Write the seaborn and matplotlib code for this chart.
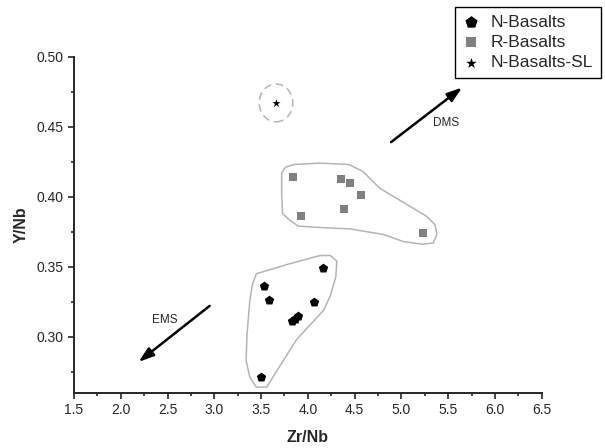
import matplotlib
matplotlib.use("Agg")
import matplotlib.pyplot as plt
from matplotlib.patches import Ellipse
import numpy as np
import pandas as pd
import seaborn as sns

# Zr/Nb vs Y/Nb values
n_zr_nb = [4.16, 3.53, 3.58, 4.07, 3.83, 3.86, 3.89, 3.50]
n_y_nb = [0.349, 0.336, 0.326, 0.325, 0.311, 0.313, 0.315, 0.271]

r_zr_nb = [3.84, 4.35, 4.45, 4.57, 4.39, 3.93, 5.23]
r_y_nb = [0.414, 0.413, 0.410, 0.401, 0.391, 0.386, 0.374]

sl_zr_nb = [3.66]
sl_y_nb = [0.467]

# hand-drawn envelopes around the groups (data units)
n_env_x = [3.45, 3.80, 4.13, 4.24, 4.31, 4.30, 4.24, 4.17, 3.88, 3.70, 3.56,
           3.45, 3.38, 3.34, 3.35, 3.38, 3.41]
n_env_y = [0.345, 0.352, 0.358, 0.358, 0.354, 0.343, 0.329, 0.319, 0.298,
           0.279, 0.264, 0.264, 0.271, 0.283, 0.302, 0.326, 0.338]

r_env_x = [3.76, 3.85, 4.13, 4.44, 4.59, 4.77, 5.02, 5.27, 5.36, 5.38, 5.34,
           5.23, 5.02, 4.81, 4.45, 4.13, 3.90, 3.81, 3.73, 3.72, 3.72]
r_env_y = [0.421, 0.423, 0.424, 0.423, 0.418, 0.406, 0.396, 0.386, 0.380,
           0.373, 0.367, 0.366, 0.368, 0.373, 0.377, 0.378, 0.379, 0.383,
           0.388, 0.402, 0.417]

# trend arrows: (tail, head)
dms_arrow = [(4.89, 0.439), (5.65, 0.478)]
ems_arrow = [(2.95, 0.322), (2.19, 0.282)]

x_ticks = [1.5, 2.0, 2.5, 3.0, 3.5, 4.0, 4.5, 5.0, 5.5, 6.0, 6.5]
y_ticks = [0.30, 0.35, 0.40, 0.45, 0.50]

sns.set_style("ticks")
plt.rcParams["font.family"] = ["Liberation Sans", "DejaVu Sans"]

df = pd.concat([
    pd.DataFrame({"Zr/Nb": n_zr_nb, "Y/Nb": n_y_nb, "group": "N-Basalts"}),
    pd.DataFrame({"Zr/Nb": r_zr_nb, "Y/Nb": r_y_nb, "group": "R-Basalts"}),
    pd.DataFrame({"Zr/Nb": sl_zr_nb, "Y/Nb": sl_y_nb, "group": "N-Basalts-SL"}),
])

fig = plt.figure(figsize=(6.05, 4.48), dpi=100)
ax = fig.add_axes([0.1223, 0.1234, 0.7730, 0.7500])

env_color = "#b4b4b4"
ax.fill(n_env_x, n_env_y, facecolor="none", edgecolor=env_color, lw=1.1)
ax.fill(r_env_x, r_env_y, facecolor="none", edgecolor=env_color, lw=1.1)
ax.add_patch(Ellipse((sl_zr_nb[0], sl_y_nb[0]), 0.36, 0.027, facecolor="none",
                     edgecolor=env_color, lw=1.1, linestyle=(0, (5, 3))))

styles = {
    "N-Basalts": dict(marker="p", color="black", s=50),
    "R-Basalts": dict(marker="s", color="#808080", s=32),
    "N-Basalts-SL": dict(marker="*", color="black", s=38),
}
for name, kw in styles.items():
    sub = df[df["group"] == name]
    sns.scatterplot(data=sub, x="Zr/Nb", y="Y/Nb", ax=ax, label=name,
                    linewidth=0, zorder=3, **kw)

arrow_kw = dict(arrowstyle="-|>,head_length=0.9,head_width=0.3",
                color="black", lw=1.8, shrinkA=0, shrinkB=0)
ax.annotate("", xy=dms_arrow[1], xytext=dms_arrow[0], arrowprops=arrow_kw)
ax.annotate("", xy=ems_arrow[1], xytext=ems_arrow[0], arrowprops=arrow_kw)
ax.text(5.48, 0.4525, "DMS", fontsize=8.5, ha="center", va="center")
ax.text(2.47, 0.312, "EMS", fontsize=8.5, ha="center", va="center")

ax.set_xlim(1.5, 6.5)
ax.set_ylim(0.26, 0.50)
ax.set_xticks(x_ticks)
ax.set_yticks(y_ticks)
ax.set_xticklabels([f"{v:.1f}" for v in x_ticks])
ax.set_yticklabels([f"{v:.2f}" for v in y_ticks])
ax.set_xticks(np.arange(1.75, 6.5, 0.5), minor=True)
ax.set_yticks(np.arange(0.275, 0.5, 0.05), minor=True)
ax.tick_params(which="major", length=4.5, width=1.2, labelsize=10, pad=3)
ax.tick_params(which="minor", length=2.5, width=1.2)
for side in ("left", "bottom"):
    ax.spines[side].set_linewidth(1.4)
sns.despine(ax=ax)

ax.set_xlabel("Zr/Nb", fontsize=11.5, fontweight="bold", labelpad=9)
ax.set_ylabel("Y/Nb", fontsize=11.5, fontweight="bold", labelpad=6)

leg = ax.legend(loc="upper left", bbox_to_anchor=(0.752, 0.985),
                bbox_transform=fig.transFigure, fontsize=12.5, frameon=True,
                fancybox=False, framealpha=1, edgecolor="black",
                labelspacing=0.3, handlelength=1.0, handletextpad=0.6,
                borderpad=0.45, borderaxespad=0, markerscale=1.3)
leg.get_frame().set_linewidth(1.0)

fig.savefig("out.png", dpi=100)
